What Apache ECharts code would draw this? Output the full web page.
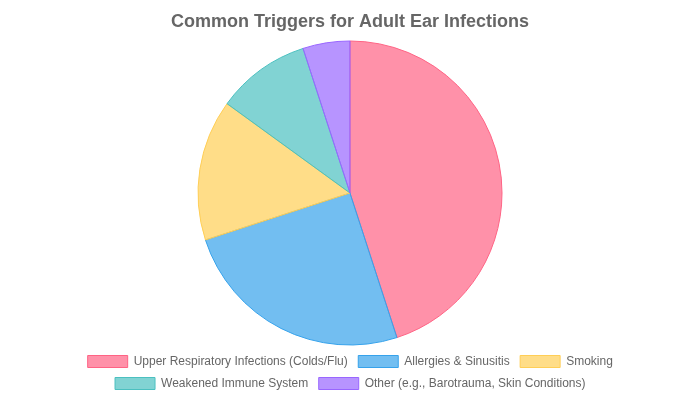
<!DOCTYPE html>
<html><head><meta charset="utf-8">
<script src="https://cdn.jsdelivr.net/npm/echarts@6/dist/echarts.min.js"></script>
<style>html,body{margin:0;padding:0;background:#fff}#c{width:700px;height:400px}</style>
</head><body><div id="c"></div>
<script>
const categories = ['Upper Respiratory Infections (Colds/Flu)', 'Allergies & Sinusitis', 'Smoking', 'Weakened Immune System', 'Other (e.g., Barotrauma, Skin Conditions)'];
const values = [45, 25, 15, 10, 5];
const fillColors = ['rgba(255,99,132,0.7)', 'rgba(54,162,235,0.7)', 'rgba(255,206,86,0.7)', 'rgba(75,192,192,0.7)', 'rgba(153,102,255,0.7)'];
const borderColors = ['rgb(255,99,132)', 'rgb(54,162,235)', 'rgb(255,206,86)', 'rgb(75,192,192)', 'rgb(153,102,255)'];
const legendRow1 = categories.slice(0, 3);
const legendRow2 = categories.slice(3);
const chart = echarts.init(document.getElementById('c'), null, {renderer: 'canvas'});
const legendBase = {
  left: 'center',
  itemWidth: 40, itemHeight: 12, itemGap: 10,
  icon: 'rect',
  itemStyle: {borderWidth: 1},
  textStyle: {fontFamily: 'Liberation Sans, Arial, sans-serif', fontSize: 12, color: '#666', lineHeight: 10, padding: [0, 0, 0, 1]}
};
chart.setOption({
  animation: false,
  title: {
    text: 'Common Triggers for Adult Ear Infections',
    left: 'center', top: 8,
    textStyle: {fontFamily: 'Liberation Sans, Arial, sans-serif', fontSize: 18, fontWeight: 'bold', color: '#666'}
  },
  legend: [
    Object.assign({}, legendBase, {top: 350, data: legendRow1}),
    Object.assign({}, legendBase, {top: 372, data: legendRow2})
  ],
  series: [{
    type: 'pie',
    center: [350, 193],
    radius: [0, 152],
    startAngle: 90,
    clockwise: true,
    label: {show: false},
    labelLine: {show: false},
    emphasis: {disabled: true},
    data: categories.map((n, i) => ({
      name: n, value: values[i],
      itemStyle: {color: fillColors[i], borderColor: borderColors[i], borderWidth: 1}
    }))
  }]
});
</script></body></html>
